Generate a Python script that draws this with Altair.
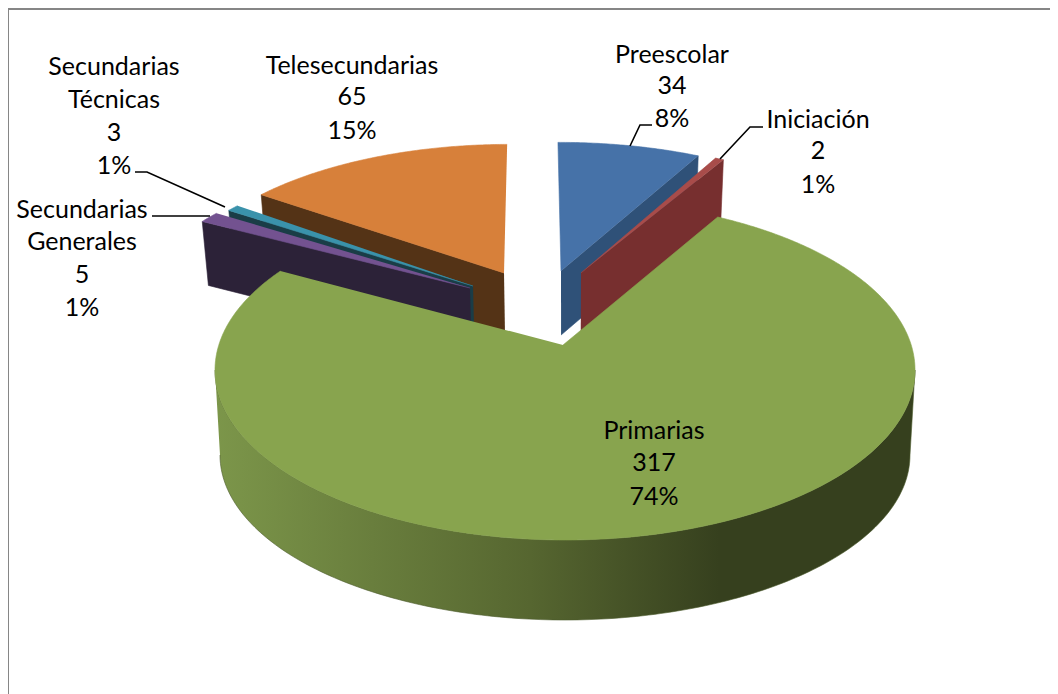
import math
import altair as alt
import pandas as pd

# ---- chart values ----
categories = ["Preescolar", "Iniciación", "Primarias", "Secundarias Generales", "Secundarias Técnicas", "Telesecundarias"]
values = [34, 2, 317, 5, 3, 65]
percents = ["8%", "1%", "74%", "1%", "1%", "15%"]

# ---- layout of the exploded 3-D pie (pixels of the page) ----
TOP = ["#4672a8", "#a84c4a", "#88a44e", "#735290", "#3a92ab", "#d7803a"]
SIDE = ["#2f5178", "#772f2f", None, "#2c2238", "#1a3d47", "#543316"]
APEX = [(561, 271), (581, 273), (563, 345), (470, 288), (473, 286), (504, 273)]
SCALE_A = [0.955, 0.95, 1.0, 0.96, 0.925, 0.945]
SCALE_B = [0.887, 0.885, 1.0, 0.9, 0.91, 0.887]
SHEAR = [0.11, 0.11, 0.0, 0.11, 0.11, 0.11]
FACES = [(1,), (1,), (), (0,), (0,), (0,)]   # radial faces that can be seen
A, B, OFF_X, OFF_Y = 350.0, 170.0, 2.0, 25.0
DEPTH = 64.0
BOTTOM = (565.0, 455.0, 345.0, 165.0)
FONT = "Lato"
FONT_SIZE = 25

X = alt.Scale(domain=[8, 1050], nice=False, zero=False)
Y = alt.Scale(domain=[694, 8], nice=False, zero=False)


def rim_point(i, deg):
    """Where the ray of angle `deg` from the slice's apex meets its ellipse."""
    a, b = A * SCALE_A[i], B * SCALE_B[i]
    ax, ay = APEX[i]
    ox, oy = -OFF_X * SCALE_A[i], -OFF_Y * SCALE_B[i]   # apex relative to ellipse centre
    dx, dy = a * math.sin(math.radians(deg)), -b * math.cos(math.radians(deg))
    qa = (dx / a) ** 2 + (dy / b) ** 2
    qb = 2 * (ox * dx / a ** 2 + oy * dy / b ** 2)
    qc = (ox / a) ** 2 + (oy / b) ** 2 - 1
    t = (-qb + math.sqrt(qb * qb - 4 * qa * qc)) / (2 * qa)
    rise = -t * dy
    return ax + t * dx + (533 - ax) * SHEAR[i] * rise / 130, ay + t * dy


def extrude(p):
    return p[0] + (565 - p[0]) * 0.017, p[1] + DEPTH


def poly(points, fill, stroke=None):
    df = pd.DataFrame({"x": [p[0] for p in points], "y": [p[1] for p in points], "i": range(len(points))})
    paint = stroke or (fill if isinstance(fill, str) else "#5a6a32")
    return alt.Chart(df).mark_line(fill=fill, stroke=paint, strokeWidth=0.6, interpolate="linear").encode(
        x=alt.X("x:Q", scale=X, axis=None),
        y=alt.Y("y:Q", scale=Y, axis=None),
        order=alt.Order("i:Q"),
    )


total = sum(values)
edges = [0.0]
for v in values:
    edges.append(edges[-1] + v / total * 360)

layers = []

# frame
for x0, y0, x1, y1 in [(8, 9, 1050, 9), (8, 9, 8, 694)]:
    layers.append(alt.Chart(pd.DataFrame({"x": [x0], "y": [y0], "x2": [x1], "y2": [y1]})).mark_rule(color="#868686", strokeWidth=2).encode(
        x=alt.X("x:Q", scale=X, axis=None), y=alt.Y("y:Q", scale=Y, axis=None), x2="x2:Q", y2="y2:Q"))


def slice_layers(i):
    out = []
    t0, t1 = edges[i], edges[i + 1]
    apex = APEX[i]
    for f in FACES[i]:
        deg = t1 if f == 1 else t0
        r = rim_point(i, deg)
        out.append(poly([apex, r, extrude(r), extrude(apex)], SIDE[i]))
    n = max(6, int((t1 - t0) * 2))
    arc = [rim_point(i, t0 + (t1 - t0) * k / n) for k in range(n + 1)]
    out.append(poly([apex] + arc, TOP[i]))
    return out


# far slices first
for i in [5, 4, 3, 0, 1]:
    layers += slice_layers(i)

# Primarias: outer wall then top
cx, cy = 565.0, 370.0
N = 180
upper = [(cx + A * math.sin(math.radians(270 - 180 * k / N)), cy - B * math.cos(math.radians(270 - 180 * k / N))) for k in range(N + 1)]
bx, by, ba, bb = BOTTOM
lower = [(bx + ba * math.sin(math.radians(90 + 180 * k / N)), by - bb * math.cos(math.radians(90 + 180 * k / N))) for k in range(N + 1)]
wall = {
    "gradient": "linear", "x1": 0, "y1": 0, "x2": 1, "y2": 0,
    "stops": [
        {"offset": 0, "color": "#7c964a"},
        {"offset": 0.45, "color": "#566630"},
        {"offset": 0.72, "color": "#36401e"},
        {"offset": 1, "color": "#36401e"},
    ],
}
layers.append(poly(upper + lower, wall, "#4c5a2b"))
layers += slice_layers(2)

# leader lines
leaders = [
    [(630, 146), (640, 125), (652, 125)],
    [(720, 159), (750, 127), (763, 127)],
    [(135, 172), (147, 172), (225, 207)],
    [(152, 216), (210, 216)],
]
for pts in leaders:
    df = pd.DataFrame({"x": [p[0] for p in pts], "y": [p[1] for p in pts], "i": range(len(pts))})
    layers.append(alt.Chart(df).mark_line(color="#000000", strokeWidth=1.6).encode(
        x=alt.X("x:Q", scale=X, axis=None), y=alt.Y("y:Q", scale=Y, axis=None), order=alt.Order("i:Q")))

# data labels
label_rows = [
    ("Preescolar", 672, 55), (str(values[0]), 672, 86), (percents[0], 672, 119),
    ("Iniciación", 818, 120), (str(values[1]), 818, 151), (percents[1], 818, 185),
    ("Primarias", 654, 431), (str(values[2]), 654, 463), (percents[2], 654, 497),
    ("Secundarias", 82, 210), ("Generales", 82, 242), (str(values[3]), 82, 275), (percents[3], 82, 308),
    ("Secundarias", 114, 67), ("Técnicas", 114, 100), (str(values[4]), 114, 133), (percents[4], 114, 166),
    ("Telesecundarias", 352, 66), (str(values[5]), 352, 97), (percents[5], 352, 131),
]
labels = pd.DataFrame(label_rows, columns=["t", "x", "y"])
layers.append(alt.Chart(labels).mark_text(font=FONT, fontSize=FONT_SIZE, color="#000000", align="center", baseline="middle").encode(
    x=alt.X("x:Q", scale=X, axis=None), y=alt.Y("y:Q", scale=Y, axis=None), text="t:N"))

chart = alt.layer(*layers).properties(
    width=1042, height=686, padding=0, autosize=alt.AutoSizeParams(type="none"), background="#ffffff"
).configure_view(stroke=None)

chart.save("out.html", embed_options={"renderer": "svg", "actions": False})
